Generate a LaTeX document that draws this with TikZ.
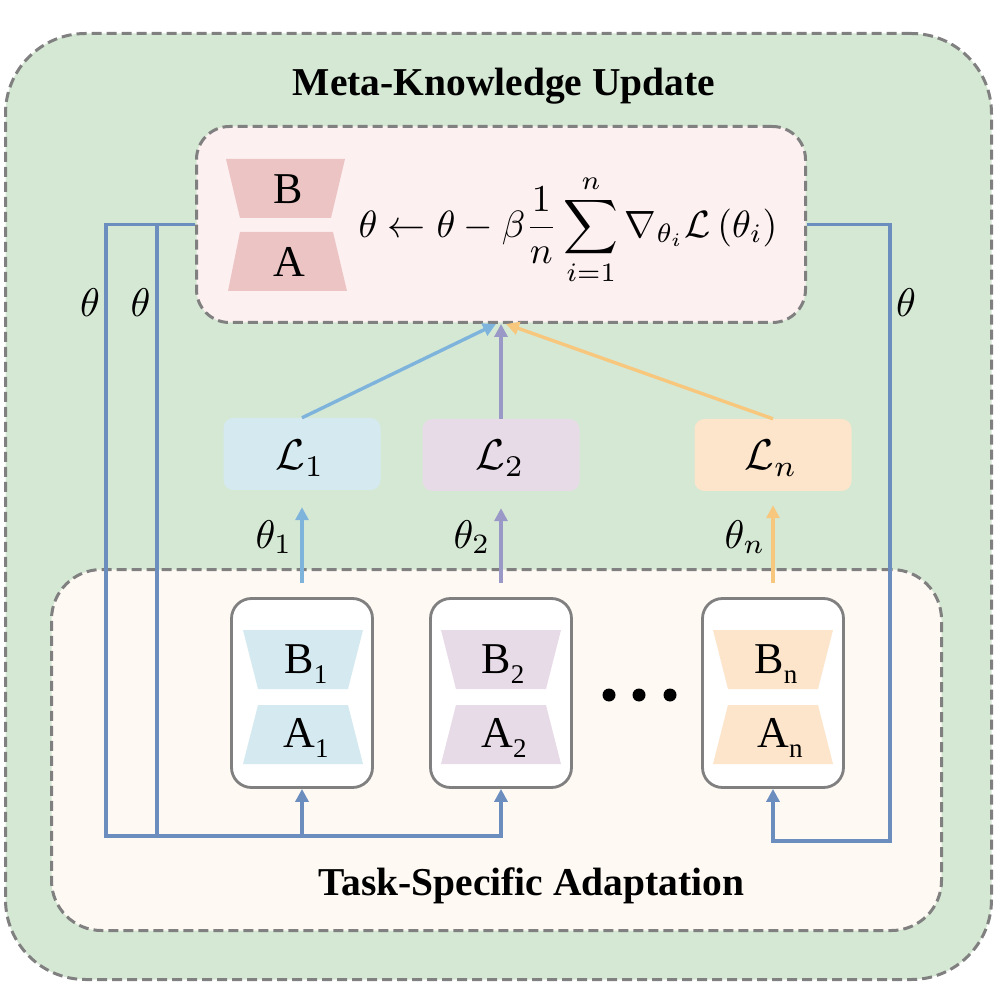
\documentclass[tikz,border=0pt]{standalone}
\usepackage{fontspec}
\setmainfont{Liberation Serif}
\usetikzlibrary{arrows.meta}
\definecolor{outerg}{HTML}{D5E8D4}
\definecolor{dashg}{HTML}{808080}
\definecolor{pinkbg}{HTML}{FDF0F1}
\definecolor{pinktr}{HTML}{ECC4C4}
\definecolor{cream}{HTML}{FEF9F3}
\definecolor{lblue}{HTML}{D5EAF0}
\definecolor{lpurp}{HTML}{E8DBE8}
\definecolor{lorng}{HTML}{FCE5CA}
\definecolor{ablue}{HTML}{7EB4DC}
\definecolor{apurp}{HTML}{9A98C6}
\definecolor{aorng}{HTML}{F8C77E}
\definecolor{fblue}{HTML}{6C8EBF}
\newcommand\mypair[3]{%
 \fill[#3] (#1-60,#2-63) -- (#1+60,#2-63) -- (#1+45,#2-4) -- (#1-45,#2-4) -- cycle;
 \fill[#3] (#1-45,#2+12) -- (#1+45,#2+12) -- (#1+60,#2+71) -- (#1-60,#2+71) -- cycle;}
\newcommand\mysub[1]{\raisebox{-10pt}{\fontsize{27}{27}\selectfont #1}}
\newcommand\mymath[2]{\scalebox{#1}{$#2$}}
\begin{document}
\begin{tikzpicture}[x=1pt,y=-1pt,
  dbox/.style={draw=dashg, line width=3pt, dash pattern=on 10pt off 5pt, inner sep=0pt},
  lbox/.style={rounded corners=10pt, minimum width=157pt, minimum height=72pt, inner sep=0pt},
  blk/.style={draw=dashg, line width=2.8pt, rounded corners=20pt, fill=white, minimum width=141pt, minimum height=189pt, inner sep=0pt},
  tip/.style={-{Triangle[length=13pt,width=13pt]}},
  fb/.style={draw=fblue, line width=3.4pt},
  ca/.style={line width=3.4pt},
  ttl/.style={font=\fontsize{39.5}{40}\selectfont\bfseries, anchor=base, inner sep=0pt},
  lab/.style={font=\fontsize{44}{44}\selectfont, anchor=base, inner sep=0pt},
  mth/.style={inner sep=0pt, anchor=base},
]
\useasboundingbox (0,0) rectangle (997,984);
% outer container
\node[dbox, fill=outerg, rounded corners=80pt, minimum width=986pt, minimum height=946pt] (outer) at (498.5,506.5) {};
\node[ttl] (t1) at (504,96) {Meta-Knowledge Update};
% meta box
\node[dbox, fill=pinkbg, rounded corners=33pt, minimum width=609pt, minimum height=196pt] (meta) at (501,224.5) {};
\fill[pinktr] (226,159) -- (345,159) -- (331,218) -- (240,218) -- cycle;
\fill[pinktr] (240,232) -- (333,232) -- (347,291) -- (228,291) -- cycle;
\node[lab] (B) at (288,204) {B};
\node[lab] (A) at (289,277) {A};
\node[inner sep=0pt] (eq) at (568,230) {\scalebox{3.8}{$\displaystyle \theta\leftarrow\theta-\beta\frac{1}{n}\sum_{i=1}^{n}\nabla_{\theta_i}\mathcal{L}\left(\theta_i\right)$}};
% task box
\node[dbox, fill=cream, rounded corners=50pt, minimum width=890pt, minimum height=361pt] (task) at (496.5,750) {};
\node[ttl] (t2) at (531.5,895) {Task-Specific Adaptation};
% loss boxes
\node[lbox, fill=lblue] (L1) at (302,454) {};
\node[lbox, fill=lpurp] (L2) at (501,455) {};
\node[lbox, fill=lorng] (Ln) at (773,455) {};
\node[mth] (l1t) at (300,470) {\mymath{4.3}{\mathcal{L}_1}};
\node[mth] (l2t) at (500,470) {\mymath{4.3}{\mathcal{L}_2}};
\node[mth] (lnt) at (771,470) {\mymath{4.3}{\mathcal{L}_n}};
% blocks
\node[blk] (b1) at (302,693) {};
\node[blk] (b2) at (501,693) {};
\node[blk] (bn) at (773,693) {};
\mypair{303}{693}{lblue}
\mypair{501}{693}{lpurp}
\mypair{773}{693}{lorng}
\node[lab] (B1) at (306,673) {B\mysub{1}};
\node[lab] (A1) at (306,747) {A\mysub{1}};
\node[lab] (B2) at (503,673) {B\mysub{2}};
\node[lab] (A2) at (504,747) {A\mysub{2}};
\node[lab] (Bn) at (776,673) {B\mysub{n}};
\node[lab] (An) at (780,747) {A\mysub{n}};
\fill (609,695) circle (6.5) (639,695) circle (6.5) (670,695) circle (6.5);
% loss -> meta arrows
\draw[ca, ablue, tip] (L1.north) -- ([xshift=-5pt]meta.south);
\draw[ca, apurp, tip] (L2.north) -- (meta.south);
\draw[ca, aorng, tip] (Ln.north) -- ([xshift=5pt]meta.south);
% block -> loss arrows
\draw[ca, ablue, tip] ([yshift=14pt]b1.north) -- ([yshift=-17pt]L1.south);
\draw[ca, apurp, tip] ([yshift=14pt]b2.north) -- ([yshift=-17pt]L2.south);
\draw[ca, aorng, tip] ([yshift=14pt]bn.north) -- ([yshift=-14pt]Ln.south);
\node[mth] (th1) at (274,548) {\mymath{4}{\theta_1}};
\node[mth] (th2) at (472,548) {\mymath{4}{\theta_2}};
\node[mth] (thn) at (745,548) {\mymath{4}{\theta_n}};
% feedback lines
\coordinate (j1) at (157,224.5);
\coordinate (j2) at (157,836);
\draw[fb, tip] (meta.west) -| (106,836) -| (b2.south);
\draw[fb] (j1) -- (j2);
\draw[fb, tip] (b1.south |- j2) -- (b1.south);
\draw[fb, tip] (meta.east) -| (890,841) -| (bn.south);
\node[mth] (thl1) at (90,317) {\mymath{4}{\theta}};
\node[mth] (thl2) at (140.5,317) {\mymath{4}{\theta}};
\node[mth] (thr) at (906,317) {\mymath{4}{\theta}};
\end{tikzpicture}
\end{document}
